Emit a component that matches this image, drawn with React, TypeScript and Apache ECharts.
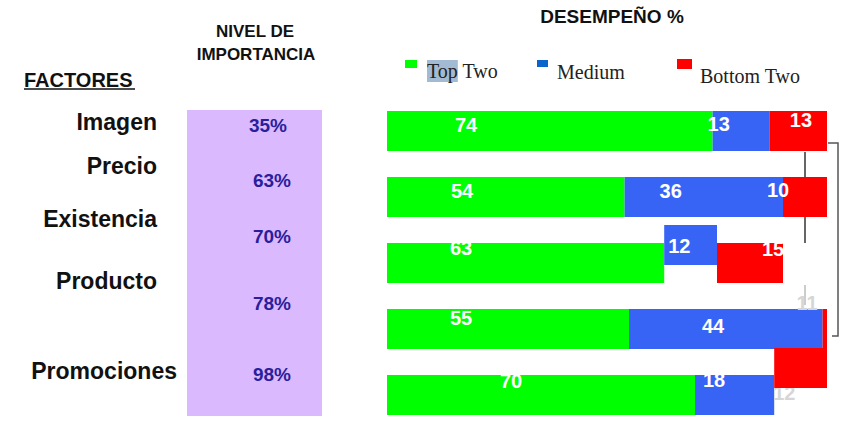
import React, { useEffect, useRef } from "react";
import * as echarts from "echarts";

// ---- data ----
const factors = ["Imagen", "Precio", "Existencia", "Producto", "Promociones"];
const importance = [35, 63, 70, 78, 98];
const topTwo = [74, 54, 63, 55, 70];
const medium = [13, 36, 12, 44, 18];
const bottomTwo = [13, 10, 15, 11, 12];
const seriesNames = ["Top Two", "Medium", "Bottom Two"];

// ---- layout / style constants ----
const SANS = "'Liberation Sans', Arial, sans-serif";
const SERIF = "'Liberation Serif', 'Times New Roman', serif";
const factorLabelY = [122, 166, 219, 281, 371];
const factorLabelRight = [157, 157, 157, 157, 177];
const importanceY = [125, 180, 236, 303, 374];
const importanceX = [268, 272, 272, 272, 272];
const greenOffsets = [[68, -6], [64, -6], [63, -15], [63, -11], [113, -14]];
const blueOffsets = [[-5, -7], [35, -6], [4, 1], [73, -3], [8, -15]];
const redOffsets = [[20, -11], [-16, -7], [45, -14], [-26, -26], [-1, -2]];
const redLabelColors = ["#fff", "#fff", "#fff", "#d6d6d6", "#d6d6d6"];
// segments that the original slide drew shifted upwards: [row index]
const raisedMediumRow = 2;
const raisedBottomRow = 4;

const GREEN = "#00ff00";
const BLUE = "#3864f5";
const RED = "#ff0000";

const labelBase = {
  show: true,
  position: "insideLeft",
  distance: 0,
  formatter: "{c}",
  fontFamily: SANS,
  fontWeight: "bold",
  fontSize: 20,
  color: "#fff",
};

function makeSeries(
  name: string,
  values: number[],
  color: string,
  offsets: number[][],
  colors: string[] | null,
  hiddenRow: number,
  labelOnHidden: boolean
) {
  return {
    name,
    type: "bar",
    stack: "total",
    barWidth: 40,
    z: 2,
    itemStyle: { color },
    label: labelBase,
    data: values.map((v, i) => ({
      value: v,
      itemStyle: i === hiddenRow ? { color: "transparent" } : undefined,
      label:
        i === hiddenRow && !labelOnHidden
          ? { show: false }
          : { offset: offsets[i], color: colors ? colors[i] : "#fff" },
    })),
  };
}

function onlyRow(values: number[], row: number) {
  return values.map((v, i) => (i === row ? v : "-"));
}

function legendIcon(w: number, h: number, boxW: number, boxH: number) {
  return `path://M0,0h${w}v${h}h-${w}z M${boxW - 0.01},${boxH - 0.01}h0.01v0.01h-0.01z`;
}

export default function App() {
  const ref = useRef<HTMLDivElement>(null);
  useEffect(() => {
    if (!ref.current) return;
    const chart = echarts.init(ref.current, undefined, { renderer: "svg" });

    const legendBase = {
      orient: "horizontal",
      padding: 0,
      selectedMode: false,
      textStyle: {
        fontFamily: SERIF,
        fontSize: 20,
        color: "#222",
        rich: {
          hl: {
            fontFamily: SERIF,
            fontSize: 20,
            color: "#222",
            backgroundColor: "#a2bbd3",
            padding: [1, 0, 1, 0],
          },
        },
      },
      formatter: (n: string) => (n === "Top Two" ? "{hl|Top} Two" : n),
    };

    const graphic: any[] = [
      {
        type: "rect",
        z: 0,
        shape: { x: 187, y: 110, width: 135, height: 306 },
        style: { fill: "#dab9fe" },
      },
      {
        type: "text",
        z: 10,
        x: 255,
        y: 31,
        style: { text: "NIVEL DE", font: `bold 17px ${SANS}`, fill: "#111", align: "center", verticalAlign: "middle" },
      },
      {
        type: "text",
        z: 10,
        x: 256,
        y: 54,
        style: { text: "IMPORTANCIA", font: `bold 17px ${SANS}`, fill: "#111", align: "center", verticalAlign: "middle" },
      },
      {
        type: "text",
        z: 10,
        x: 612,
        y: 16,
        style: { text: "DESEMPEÑO %", font: `bold 19px ${SANS}`, fill: "#111", align: "center", verticalAlign: "middle" },
      },
      {
        type: "text",
        z: 10,
        x: 24,
        y: 80,
        style: { text: "FACTORES", font: `bold 20px ${SANS}`, fill: "#111", align: "left", verticalAlign: "middle" },
      },
      {
        type: "line",
        z: 10,
        shape: { x1: 24, y1: 89, x2: 135, y2: 89 },
        style: { stroke: "#111", lineWidth: 1.5 },
      },
      // connector lines
      {
        type: "line",
        z: 1,
        shape: { x1: 805, y1: 152, x2: 805, y2: 243 },
        style: { stroke: "#666", lineWidth: 2 },
      },
      {
        type: "line",
        z: 1,
        shape: { x1: 805, y1: 285, x2: 805, y2: 305 },
        style: { stroke: "#bbb", lineWidth: 1.5 },
      },
      {
        type: "polyline",
        z: 1,
        shape: { points: [[828, 143], [838, 143], [838, 336], [832, 336]] },
        style: { stroke: "#555", lineWidth: 1.5, fill: "none" },
      },
    ];

    factors.forEach((f, i) => {
      graphic.push({
        type: "text",
        z: 10,
        x: factorLabelRight[i],
        y: factorLabelY[i],
        style: { text: f, font: `bold 23px ${SANS}`, fill: "#111", align: "right", verticalAlign: "middle" },
      });
    });
    importance.forEach((v, i) => {
      graphic.push({
        type: "text",
        z: 10,
        x: importanceX[i],
        y: importanceY[i],
        style: { text: `${v}%`, font: `bold 19px ${SANS}`, fill: "#2a1e9c", align: "center", verticalAlign: "middle" },
      });
    });

    const axisX = (gridIndex: number) => ({ type: "value", min: 0, max: 100, show: false, gridIndex });
    const axisY = (gridIndex: number) => ({ type: "category", data: factors, inverse: true, show: false, gridIndex });
    const hidden = { color: "transparent" };

    chart.setOption({
      animation: false,
      grid: [
        { left: 387, right: 17, top: 98, height: 330 },
        { left: 387, right: 17, top: 80, height: 330 },
        { left: 387, right: 17, top: 71, height: 330 },
      ],
      xAxis: [axisX(0), axisX(1), axisX(2)],
      yAxis: [axisY(0), axisY(1), axisY(2)],
      legend: [
        {
          ...legendBase,
          left: 405,
          top: 60,
          itemWidth: 17,
          itemHeight: 22,
          data: [{ name: seriesNames[0], icon: legendIcon(12, 8, 17, 22), itemStyle: { color: GREEN, borderWidth: 0 } }],
        },
        {
          ...legendBase,
          left: 537,
          top: 60,
          itemWidth: 15,
          itemHeight: 24,
          data: [{ name: seriesNames[1], icon: legendIcon(11, 7, 15, 24), itemStyle: { color: "#0a64cc", borderWidth: 0 } }],
        },
        {
          ...legendBase,
          left: 677,
          top: 59,
          itemWidth: 18,
          itemHeight: 33,
          data: [{ name: seriesNames[2], icon: legendIcon(15, 10, 18, 33), itemStyle: { color: RED, borderWidth: 0 } }],
        },
      ],
      graphic,
      series: [
        makeSeries(seriesNames[0], topTwo, GREEN, greenOffsets, null, -1, true),
        makeSeries(seriesNames[1], medium, BLUE, blueOffsets, null, raisedMediumRow, false),
        makeSeries(seriesNames[2], bottomTwo, RED, redOffsets, redLabelColors, raisedBottomRow, true),
        // shifted Medium segment (row Existencia)
        {
          name: "base1",
          type: "bar",
          stack: "raised1",
          xAxisIndex: 1,
          yAxisIndex: 1,
          barWidth: 40,
          itemStyle: hidden,
          silent: true,
          data: onlyRow(topTwo, raisedMediumRow),
        },
        {
          name: seriesNames[1],
          type: "bar",
          stack: "raised1",
          xAxisIndex: 1,
          yAxisIndex: 1,
          barWidth: 40,
          z: 3,
          itemStyle: { color: BLUE },
          label: { ...labelBase, offset: blueOffsets[raisedMediumRow] },
          data: onlyRow(medium, raisedMediumRow),
        },
        // shifted Bottom Two segment (row Promociones)
        {
          name: "base2a",
          type: "bar",
          stack: "raised2",
          xAxisIndex: 2,
          yAxisIndex: 2,
          barWidth: 40,
          itemStyle: hidden,
          silent: true,
          data: onlyRow(topTwo, raisedBottomRow),
        },
        {
          name: "base2b",
          type: "bar",
          stack: "raised2",
          xAxisIndex: 2,
          yAxisIndex: 2,
          barWidth: 40,
          itemStyle: hidden,
          silent: true,
          data: onlyRow(medium, raisedBottomRow),
        },
        {
          name: seriesNames[2],
          type: "bar",
          stack: "raised2",
          xAxisIndex: 2,
          yAxisIndex: 2,
          barWidth: 40,
          z: 3,
          itemStyle: { color: RED },
          data: onlyRow(bottomTwo, raisedBottomRow),
        },
      ],
    });
    return () => chart.dispose();
  }, []);

  return (
    <div
      ref={ref}
      style={{ position: "absolute", left: 0, top: 0, width: 844, height: 429, background: "#fff" }}
    />
  );
}
